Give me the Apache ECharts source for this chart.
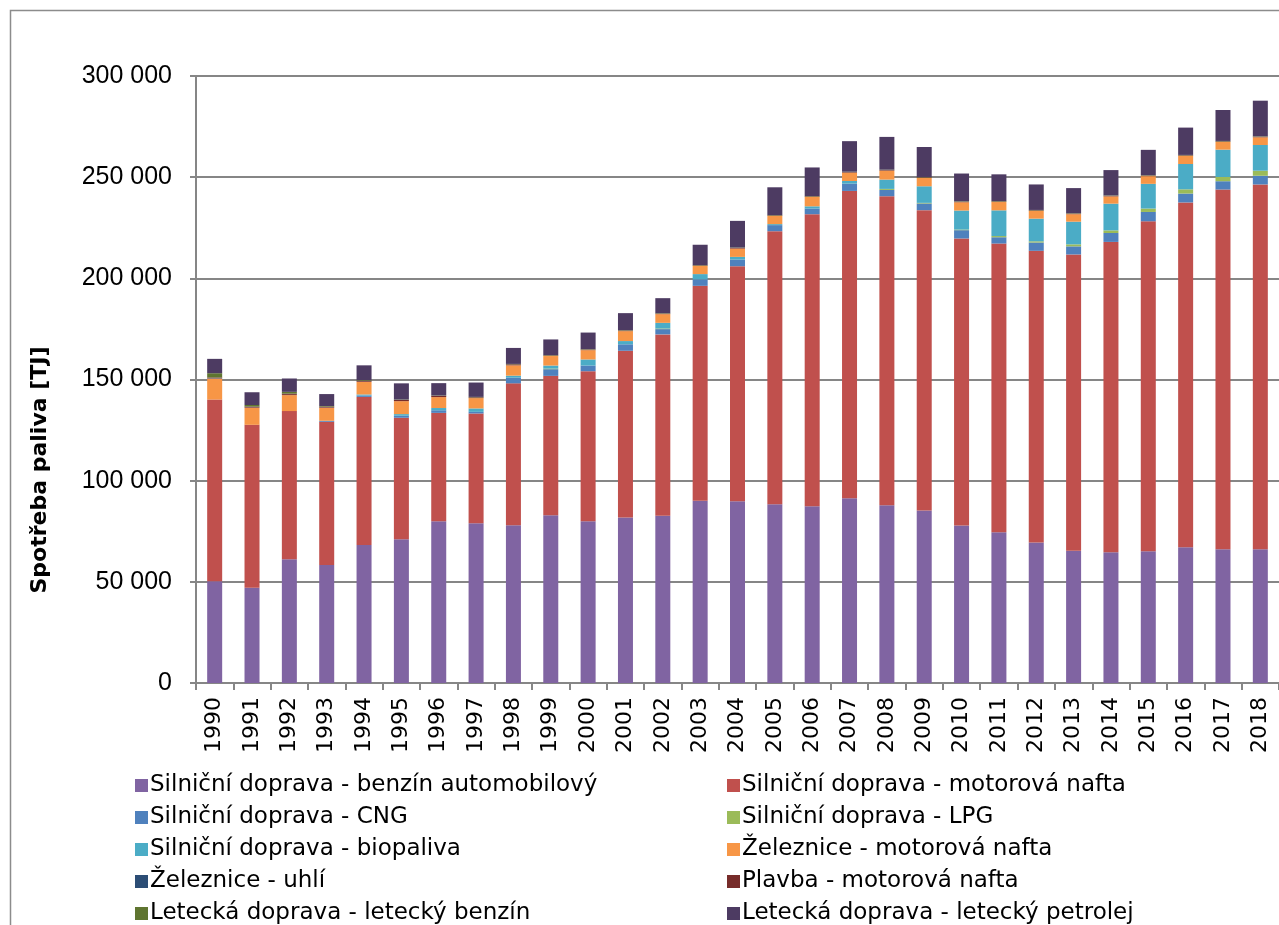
<!DOCTYPE html>
<html>
<head>
<meta charset="utf-8">
<script src="https://cdn.jsdelivr.net/npm/echarts@6/dist/echarts.min.js"></script>
<style>
  html, body { margin: 0; padding: 0; background: #fff; }
  #chart { width: 1279px; height: 925px; }
</style>
</head>
<body>
<div id="chart"></div>
<script>
// roky
const years = ["1990", "1991", "1992", "1993", "1994", "1995", "1996", "1997", "1998", "1999",
  "2000", "2001", "2002", "2003", "2004", "2005", "2006", "2007", "2008", "2009",
  "2010", "2011", "2012", "2013", "2014", "2015", "2016", "2017", "2018"];

// spotřeba paliva [TJ]
const benzinAuto = [50300, 47100, 61100, 58300, 68200, 71000, 79900, 79000, 78000, 82900,
  79900, 81800, 82600, 90100, 89800, 88300, 87300, 91300, 87800, 85300,
  77900, 74500, 69500, 65400, 64600, 65100, 67100, 66100, 66100];
const naftaSilnicni = [89800, 80500, 73300, 70800, 73200, 60100, 53600, 54200, 70100, 68900,
  74200, 82400, 89700, 106200, 116200, 135000, 144400, 151900, 152800, 148400,
  141800, 142700, 144100, 146400, 153400, 163100, 170400, 177800, 180300];
const cng = [0, 0, 0, 500, 700, 1000, 1300, 800, 2800, 3300,
  2800, 3200, 2600, 3200, 3300, 3000, 2800, 3600, 3100, 3300,
  4100, 3100, 4100, 4000, 4400, 4600, 4400, 4100, 4300];
const lpg = [0, 0, 0, 0, 0, 0, 0, 0, 0, 300,
  0, 0, 300, 0, 0, 0, 0, 0, 500, 300,
  300, 600, 600, 1000, 1300, 1700, 2100, 2100, 2500];
const biopaliva = [0, 0, 0, 0, 500, 800, 1100, 1700, 1000, 1500,
  3000, 1600, 2800, 2600, 1300, 500, 1100, 1300, 4600, 8200,
  9400, 12700, 11200, 11200, 13200, 12200, 12500, 13500, 12700];
const naftaZeleznice = [10300, 8400, 7900, 6400, 6200, 6400, 5400, 5100, 5100, 4700,
  4600, 4900, 4300, 4000, 4100, 4000, 4600, 4100, 4400, 4100,
  4100, 4100, 3800, 3700, 3600, 3800, 4000, 3800, 3800];
const uhli = [200, 100, 100, 100, 100, 0, 0, 0, 0, 0,
  0, 0, 0, 0, 0, 0, 0, 0, 0, 0,
  0, 0, 0, 0, 0, 0, 0, 0, 0];
const plavba = [400, 500, 600, 500, 500, 600, 600, 400, 500, 300,
  300, 300, 300, 300, 300, 300, 300, 300, 300, 300,
  300, 300, 300, 300, 300, 300, 300, 300, 300];
const leteckyBenzin = [2100, 800, 900, 300, 300, 200, 200, 200, 200, 200,
  200, 200, 200, 200, 200, 200, 200, 200, 200, 200,
  200, 200, 200, 200, 200, 200, 200, 200, 200];
const leteckyPetrolej = [7100, 6300, 6600, 5900, 7300, 8000, 6100, 7100, 7900, 7700,
  8200, 8400, 7400, 10000, 13200, 13700, 14100, 15100, 16200, 14800,
  13700, 13200, 12600, 12400, 12500, 12500, 13500, 15300, 17600];

const yTicks = [0, 50000, 100000, 150000, 200000, 250000, 300000];

const seriesDefs = [
  ["Silniční doprava - benzín automobilový", benzinAuto, "#8064A2"],
  ["Silniční doprava - motorová nafta", naftaSilnicni, "#C0504D"],
  ["Silniční doprava - CNG", cng, "#4F81BD"],
  ["Silniční doprava - LPG", lpg, "#9BBB59"],
  ["Silniční doprava - biopaliva", biopaliva, "#4BACC6"],
  ["Železnice - motorová nafta", naftaZeleznice, "#F79646"],
  ["Železnice - uhlí", uhli, "#2C4D75"],
  ["Plavba - motorová nafta", plavba, "#772C2A"],
  ["Letecká doprava - letecký benzín", leteckyBenzin, "#5F7530"],
  ["Letecká doprava - letecký petrolej", leteckyPetrolej, "#4D3B62"],
];

const font = "DejaVu Sans";
const chart = echarts.init(document.getElementById("chart"));

const legendBase = {
  orient: "vertical",
  top: 769,
  height: 170,
  icon: "rect",
  itemWidth: 13,
  itemHeight: 13,
  itemGap: 9,
  selectedMode: false,
  textStyle: { fontFamily: font, fontSize: 23, color: "#000", lineHeight: 23, padding: [0, 0, 0, -3] },
};

chart.setOption({
  animation: false,
  graphic: [{
    type: "rect",
    shape: { x: 10.5, y: 10.5, width: 1400, height: 1000 },
    style: { fill: "none", stroke: "#8c8c8c", lineWidth: 1.5 },
    silent: true,
  }, {
    type: "text",
    x: 40,
    y: 470,
    rotation: Math.PI / 2,
    style: {
      text: "Spotřeba paliva [TJ]",
      font: "bold 22px " + font,
      fill: "#000",
      align: "center",
      verticalAlign: "middle",
    },
    silent: true,
  }],
  grid: { left: 196, top: 76, right: -12, bottom: 242, containLabel: false },
  legend: [
    Object.assign({}, legendBase, {
      left: 130,
      data: [seriesDefs[0][0], seriesDefs[2][0], seriesDefs[4][0], seriesDefs[6][0], seriesDefs[8][0]],
    }),
    Object.assign({}, legendBase, {
      left: 722,
      data: [seriesDefs[1][0], seriesDefs[3][0], seriesDefs[5][0], seriesDefs[7][0], seriesDefs[9][0]],
    }),
  ],
  xAxis: {
    type: "category",
    data: years,
    axisLine: { lineStyle: { color: "#868686", width: 2 } },
    axisTick: { show: true, length: 7, lineStyle: { color: "#868686", width: 2 } },
    axisLabel: { rotate: 90, margin: 14, fontFamily: font, fontSize: 22, color: "#000", interval: 0 },
  },
  yAxis: {
    type: "value",
    min: 0,
    max: 300000,
    interval: 50000,
    axisLine: { show: true, lineStyle: { color: "#868686", width: 2 } },
    axisTick: { show: true, length: 6, lineStyle: { color: "#868686", width: 2 } },
    splitLine: { lineStyle: { color: "#868686", width: 2 } },
    axisLabel: {
      margin: 24,
      fontFamily: "Liberation Sans",
      fontSize: 25,
      color: "#000",
      formatter: v => yTicks.includes(v) ? String(v).replace(/\B(?=(\d{3})+(?!\d))/g, " ") : "",
    },
  },
  series: seriesDefs.map(([name, data, color]) => ({
    name: name,
    type: "bar",
    stack: "total",
    barWidth: 15,
    data: data,
    itemStyle: { color: color },
  })),
});
</script>
</body>
</html>
